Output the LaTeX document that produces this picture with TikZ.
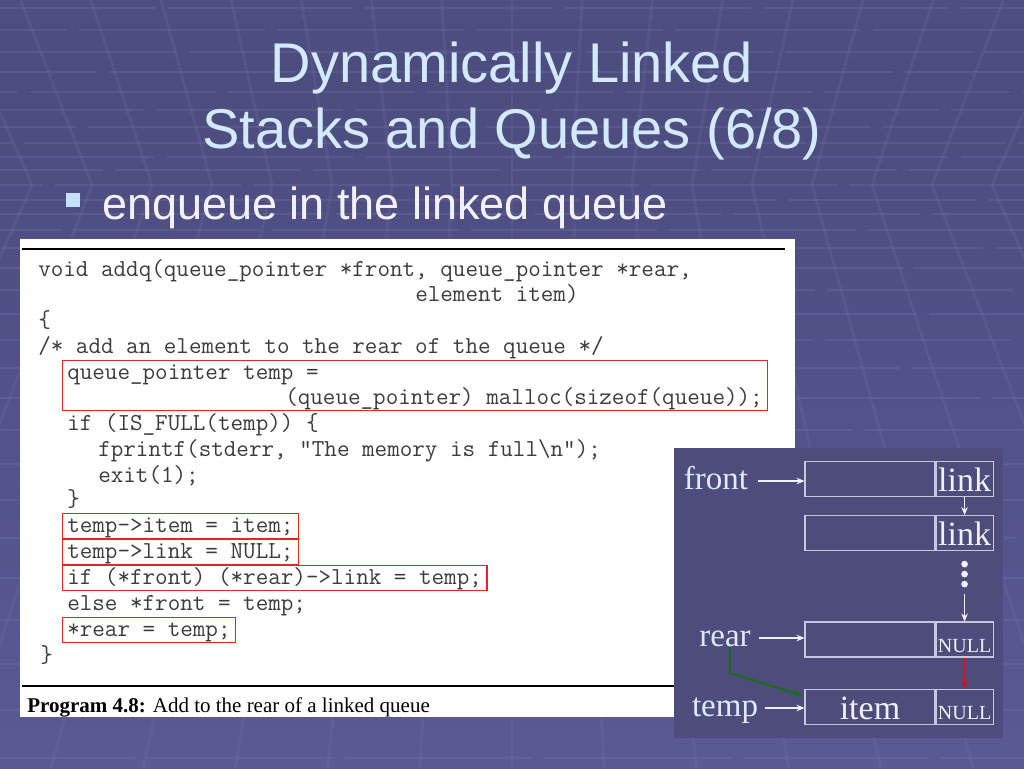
\documentclass[tikz,border=0pt]{standalone}
\usepackage{fontspec}
\setmainfont{Liberation Serif}
\setsansfont{Liberation Sans}
\usetikzlibrary{positioning,fit,calc,arrows.meta}

\definecolor{titleblue}{HTML}{D2EAFF}
\definecolor{subwhite}{HTML}{F2F2F6}
\definecolor{bulletblue}{HTML}{C4E0FF}
\definecolor{panelblue}{HTML}{4E4C7C}
\definecolor{codegray}{HTML}{3C3C3C}
\definecolor{hlred}{HTML}{E02828}
\definecolor{cellgray}{HTML}{C8C8DA}
\definecolor{celltext}{HTML}{F0F0F8}
\definecolor{labelblue}{HTML}{DCEBFF}
\definecolor{newgreen}{HTML}{1B6B1B}
\definecolor{nextred}{HTML}{D81010}
\definecolor{gridline}{HTML}{7C7CB4}

\pgfdeclareverticalshading{slidebg}{100bp}{%
  color(0bp)=(rgb,255:red,98;green,98;blue,158);
  color(35bp)=(rgb,255:red,86;green,86;blue,144);
  color(70bp)=(rgb,255:red,77;green,76;blue,126);
  color(100bp)=(rgb,255:red,88;green,88;blue,143)}

\tikzset{
  titletext/.style={anchor=base, inner sep=0pt, text=titleblue,
    font=\sffamily\fontsize{42}{46}\selectfont},
  subtext/.style={anchor=base west, inner sep=0pt, text=subwhite,
    font=\sffamily\fontsize{33.75}{38}\selectfont},
  code/.style={anchor=base west, inner sep=0pt, text height=13.5pt, text depth=4.5pt,
    text=codegray, font=\ttfamily\fontsize{18.3}{20}\selectfont},
  hl/.style={draw=hlred, line width=1pt, inner xsep=3.5pt, inner ysep=0pt},
  cell/.style={draw=cellgray, line width=0.8pt, minimum height=26.25pt, inner sep=0pt,
    text height=19pt, text depth=0pt, text=celltext,
    font=\fontsize{25.5}{26}\selectfont},
  datacell/.style={cell, minimum width=97.5pt},
  linkcell/.style={cell, minimum width=42.75pt},
  nullcell/.style={linkcell, font=\fontsize{15}{16}\selectfont},
  lab/.style={inner sep=3pt, text height=12pt, text depth=0pt, text=labelblue,
    font=\fontsize{24.75}{26}\selectfont},
  ptr/.style={draw=celltext, line width=0.8pt, -{Stealth[length=6pt,width=5pt]}},
  nextptr/.style={draw=nextred, line width=1.2pt, -{Stealth[length=6pt,width=5pt]}},
  newptr/.style={draw=newgreen, line width=1.6pt, -{Stealth[length=7pt,width=6pt]}}
}

\begin{document}
\begin{tikzpicture}[x=0.75pt,y=-0.75pt]
\useasboundingbox (0,0) rectangle (1024,768);

% slide background
\begin{scope}
  \clip (0,0) rectangle (1024,768);
  \fill[shading=slidebg] (0,0) rectangle (1024,768);
  \foreach \y in {8,30,52,72,92,110,127,143,157,170,185,200,214,230,248,268,290,314,340,368,398,430,464,500,538,578,620,664,710,758}
    \draw[gridline, opacity=0.25, line width=1.5pt, dash pattern=on 140pt off 9pt, dash phase=\y*3pt] (0,\y) -- (1024,\y);
  \foreach \k in {-10,...,10}
    \draw[gridline, opacity=0.18, line width=2.2pt]
      ({512+60*\k*1.17},0) -- ({512+60*\k},185) -- ({512+60*\k*1.537},768);
\end{scope}

% title
\node[titletext] (title1) at (512,82) {Dynamically Linked};
\node[titletext] (title2) at (512,148) {Stacks and Queues (6/8)};

\node[fill=bulletblue, minimum size=10.5pt, inner sep=0pt] (bullet) at (73,200) {};
\node[subtext] (sub) at (102,219) {enqueue in the linked queue};

% program listing
\fill[white] (20,239) rectangle (795,717);
\draw[line width=1.5pt] (22,249) -- (785,249);
\draw[line width=1.5pt] (22,686) -- (790,686);

\node[code] (c1) at (38,276) {void addq(queue\_pointer *front, queue\_pointer *rear,};
\node[code] (c2) at (415,301) {element item)};
\node[code] (c3) at (38,327) {\{};
\node[code] (c4) at (38,353) {/* add an element to the rear of the queue */};
\node[code] (c5) at (67,379) {queue\_pointer temp =};
\node[code] (c6) at (285,404) {(queue\_pointer) malloc(sizeof(queue));};
\node[code] (c7) at (67,430) {if (IS\_FULL(temp)) \{};
\node[code] (c8) at (98,456) {fprintf(stderr, "The memory is full\textbackslash n");};
\node[code] (c9) at (98,482) {exit(1);};
\node[code] (c10) at (67,506) {\}};
\node[code] (c11) at (67,532) {temp->item = item;};
\node[code] (c12) at (67,558) {temp->link = NULL;};
\node[code] (c13) at (67,584) {if (*front) (*rear)->link = temp;};
\node[code] (c14) at (67,610) {else *front = temp;};
\node[code] (c15) at (67,636) {*rear = temp;};
\node[code] (c16) at (40,662) {\}};

\node[hl, fit=(c5)(c6)] (box1) {};
\node[hl, fit=(c11)] (box2) {};
\node[hl, fit=(c12)] (box3) {};
\node[hl, fit=(c13)] (box4) {};
\node[hl, fit=(c15)] (box5) {};

\node[anchor=base west, inner sep=0pt, font=\fontsize{15.75}{17}\selectfont] (caption) at (27,712)
  {\textbf{Program 4.8:} Add to the rear of a linked queue};

% linked queue
\fill[panelblue] (674,448) rectangle (1003,738);

\node[datacell] (d1) at (870,479) {};
\node[linkcell, right=0pt of d1] (l1) {link};
\node[datacell, below=13.5pt of d1] (d2) {};
\node[linkcell, right=0pt of d2] (l2) {link};
\node[datacell] (d3) at (870,639.5) {};
\node[nullcell, right=0pt of d3] (l3) {NULL};
\node[datacell, below=23.25pt of d3] (d4) {item};
\node[nullcell, right=0pt of d4] (l4) {NULL};

\foreach \dy in {13,23,33}
  \fill[celltext] ($(l2.south)+(0,\dy)$) circle[radius=2.5pt];
\coordinate (dotend) at ($(l2.south)+(0,43)$);

\node[lab] (front) at (716,481) {front};
\node[lab] (rear) at (725,638) {rear};
\node[lab] (temp) at (725,708) {temp};

\draw[ptr, shorten <=4pt] (front) -- (front -| d1.west);
\draw[ptr, shorten <=3pt] (rear) -- (rear -| d3.west);
\draw[ptr, shorten <=2pt] (temp) -- (temp -| d4.west);
\draw[ptr] (l1) -- (l2);
\draw[ptr] (dotend) -- (l3);
\draw[nextptr] (l3) -- (l4);
\draw[newptr] ($(rear.center)+(5,9)$) -- ++(0,26) -- ($(d4.north west)+(-2,7)$);
\end{tikzpicture}
\end{document}
